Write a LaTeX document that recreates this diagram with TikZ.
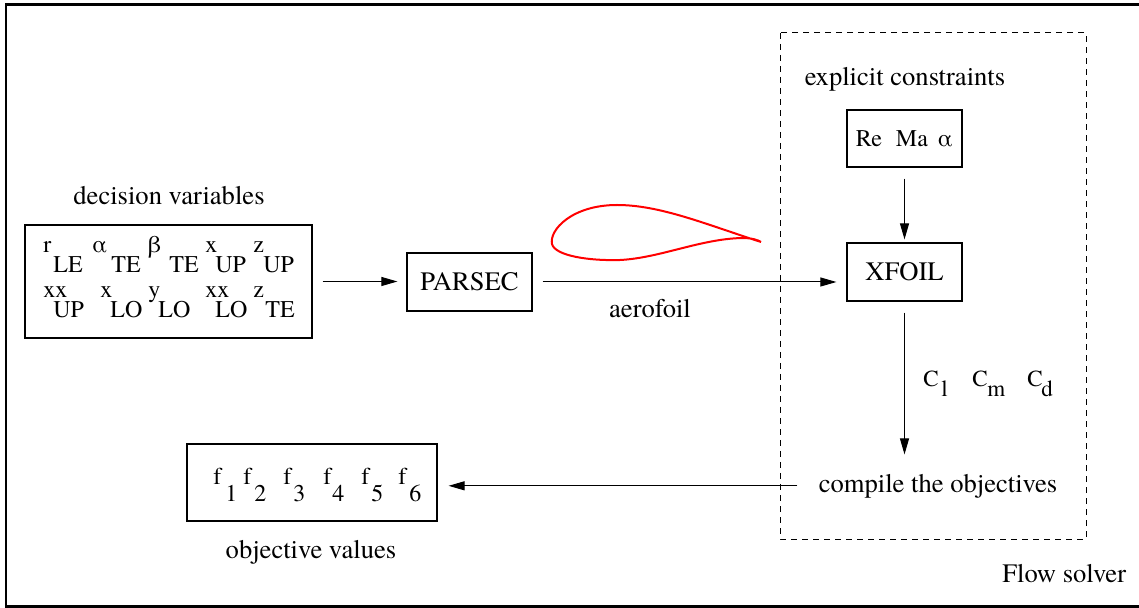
\documentclass[tikz,border=0pt]{standalone}
\usepackage{fontspec}
\setmainfont{texgyretermes}[Extension=.otf, UprightFont=*-regular]
\usetikzlibrary{arrows.meta}

\tikzset{
  txt/.style={inner sep=0pt, font=\fontsize{13.3}{16}\selectfont},
  sym/.style={inner sep=0pt, anchor=base west, font=\fontsize{12}{14}\selectfont},
  blk/.style={draw, line width=0.6pt, inner sep=0pt, font=\fontsize{13.3}{16}\selectfont},
  flow/.style={line width=0.5pt, -{Triangle[length=8pt,width=4.5pt]}},
}

\begin{document}
\begin{tikzpicture}[x=0.5pt,y=0.5pt,yscale=-1,xscale=1]
  \useasboundingbox (0,0) rectangle (1139,608);

  %Shape: Frame
  \draw [line width=1.2pt] (1145,4.5) -- (6,4.5) -- (6,606.5) -- (1145,606.5);
  %Shape: Dashed Rectangle
  \draw [line width=0.5pt, dash pattern=on 3pt off 2.5pt] (780,33) rectangle (1086,539);

  %Shape: Rectangle (decision variables)
  \node [blk, minimum width=143.5pt, minimum height=56.5pt] (dv) at (168.5,281.5) {};
  \foreach \mx/\sx/\by/\m/\s [count=\k] in {43/53/253/r/LE, 92/111/253/α/TE,
      148/169/253/β/TE, 205/215/253/x/UP, 253/263/253/z/UP, 43/53/298/xx/UP,
      100/110/298/x/LO, 148/158/298/y/LO, 205/215/298/xx/LO, 253/265/298/z/TE} {
    \node [sym] (dvm\k) at (\mx,\by) {\m};
    \node [sym] (dvs\k) at (\sx,\by+20) {\s};
  }
  %Shape: Rectangle (PARSEC)
  \node [blk, minimum width=62.5pt, minimum height=29pt] (parsec) at (469.5,282) {PARSEC};
  %Shape: Rectangle (XFOIL)
  \node [blk, minimum width=57.5pt, minimum height=29pt] (xfoil) at (904.5,272) {XFOIL};
  %Shape: Rectangle (constraints)
  \node [blk, minimum width=57.5pt, minimum height=28.5pt, font=\fontsize{12}{14}\selectfont] (cons) at (904.5,138.5) {Re\hspace{7pt}Ma\hspace{5pt}α};
  %Shape: Rectangle (objectives)
  \node [blk, minimum width=125pt, minimum height=38.5pt] (fbox) at (312,482.5) {};
  \foreach \mx/\sx [count=\k] in {213/225, 243/254, 283/293, 323/332, 361/371, 398/409} {
    \node [sym] (fm\k) at (\mx,485) {f};
    \node [sym] (fs\k) at (\sx,502) {\k};
  }

  %Curve Lines (aerofoil)
  \draw [red, line width=1pt] (761,242) .. controls (705,224) and (660,205) .. (617,205)
    .. controls (572,205) and (549,230) .. (552,244)
    .. controls (555,256) and (590,261) .. (620,260)
    .. controls (660,258) and (700,239) .. (742,238)
    .. controls (752,238) and (758,240) .. (761,242);

  % Text Node
  \node [txt, anchor=base] (dvlbl) at (169,205) {decision variables};
  % Text Node
  \node [txt, anchor=base] (conslbl) at (905,86) {explicit constraints};
  % Text Node
  \node [txt, anchor=base] (foil) at (650,318) {aerofoil};
  % Text Node
  \node [txt, anchor=base] (comp) at (938,492) {compile the objectives};
  % Text Node
  \node [txt, anchor=base] (objlbl) at (311,558) {objective values};
  % Text Node
  \node [txt, anchor=base west] (solver) at (1002,582) {Flow solver};
  % Text Node
  \foreach \mx/\sx/\s [count=\k] in {923/941/l, 972/987/m, 1027/1041/d} {
    \node [sym, font=\fontsize{11.5}{13}\selectfont] (cm\k) at (\mx,387) {C};
    \node [sym, font=\fontsize{11.5}{13}\selectfont] (cs\k) at (\sx,397) {\s};
  }

  %Straight Lines (arrows)
  \draw [flow, shorten <=5pt, shorten >=4.5pt] (dv.east) -- (dv.east -| parsec.west);
  \draw [flow, shorten <=5pt, shorten >=5pt] (parsec.east) -- (parsec.east -| xfoil.west);
  \draw [flow, shorten <=5.5pt, shorten >=1.5pt] (cons.south) -- (xfoil.north);
  \draw [flow, shorten <=5.5pt, shorten >=9.5pt] (xfoil.south) -- (xfoil.south |- comp.north);
  \draw [flow, shorten <=10.5pt, shorten >=5.5pt] (comp.west) -- (comp.west -| fbox.east);

\end{tikzpicture}
\end{document}
